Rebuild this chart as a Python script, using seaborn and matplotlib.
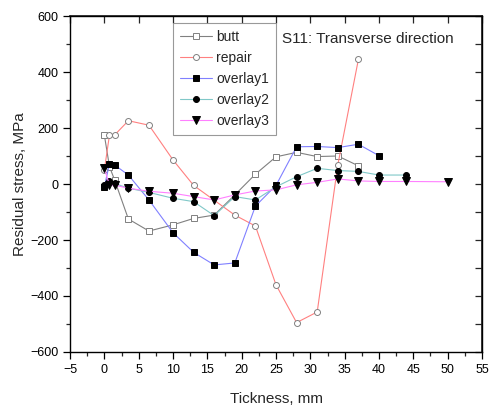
import matplotlib
matplotlib.use("Agg")
import matplotlib.pyplot as plt
import seaborn as sns
import numpy as np
from matplotlib.ticker import MultipleLocator

sns.set_theme(style="white")
plt.rcParams['font.family'] = ['Liberation Sans', 'DejaVu Sans']

# Data
butt_x = [0, 0.75, 1.5, 3.5, 6.5, 10, 13, 16, 19, 22, 25, 28, 31, 34, 37]
butt_y = [175, 62, 14, -125, -168, -146, -123, -111, -39, 35, 97, 113, 98, 100, 65]

repair_x = [0, 0.75, 1.5, 3.5, 6.5, 10, 13, 19, 22, 25, 28, 31, 34, 37]
repair_y = [50, 175, 175, 226, 210, 86, -5, -111, -150, -360, -495, -457, 68, 445]

overlay1_x = [0, 0.75, 1.5, 3.5, 6.5, 10, 13, 16, 19, 22, 25, 28, 31, 34, 37, 40]
overlay1_y = [-10, 72, 68, 32, -57, -174, -244, -289, -282, -79, -5, 133, 134, 130, 142, 101]

overlay2_x = [0, 0.75, 1.5, 3.5, 6.5, 10, 13, 16, 19, 22, 25, 28, 31, 34, 37, 40, 44]
overlay2_y = [-5, 10, 2, -15, -30, -51, -63, -113, -45, -57, -10, 26, 56, 48, 45, 32, 32]

overlay3_x = [0, 0.75, 1.5, 3.5, 6.5, 10, 13, 16, 19, 22, 25, 28, 31, 34, 37, 40, 44, 50]
overlay3_y = [56, -4, -4, -15, -26, -33, -45, -57, -39, -25, -21, -3, 6, 18, 11, 9, 9, 8]

series = [
    ("butt", butt_x, butt_y, "s", "#808080", "white", "#808080"),
    ("repair", repair_x, repair_y, "o", "#FF8080", "white", "#808080"),
    ("overlay1", overlay1_x, overlay1_y, "s", "#8080FF", "black", "black"),
    ("overlay2", overlay2_x, overlay2_y, "o", "#80C8C8", "black", "black"),
    ("overlay3", overlay3_x, overlay3_y, "v", "#FF80FF", "black", "black"),
]

fig = plt.figure(figsize=(4.92, 4.07), dpi=100)
ax = fig.add_axes([70/492, 55/407, 412/492, 336/407])

for name, xs, ys, mk, lc, fc, ec in series:
    sns.lineplot(x=xs, y=ys, ax=ax, sort=False, color=lc, lw=0.8,
                 marker=mk, markersize=4.3 if mk != "v" else 5.2,
                 markerfacecolor=fc, markeredgecolor=ec, markeredgewidth=0.7,
                 label=name, estimator=None)

ax.set_xlim(-5, 55)
ax.set_ylim(-600, 600)
ax.xaxis.set_major_locator(MultipleLocator(5))
ax.xaxis.set_minor_locator(MultipleLocator(2.5))
ax.yaxis.set_major_locator(MultipleLocator(200))
ax.yaxis.set_minor_locator(MultipleLocator(100))

for s in ax.spines.values():
    s.set_color("black")
    s.set_linewidth(1.0)

ax.tick_params(axis='both', which='major', direction='out', length=5, width=0.9,
               labelsize=9, colors='black', bottom=True, left=True)
ax.tick_params(axis='both', which='minor', direction='out', length=3, width=0.9,
               bottom=True, left=True)

# mirrored inward ticks on top and right
secx = ax.secondary_xaxis('top')
secx.xaxis.set_major_locator(MultipleLocator(5))
secx.tick_params(direction='in', length=5, width=0.9, labeltop=False)
secy = ax.secondary_yaxis('right')
secy.yaxis.set_major_locator(MultipleLocator(100))
secy.tick_params(direction='in', length=5, width=0.9, labelright=False)

ax.set_xlabel("Tickness, mm", fontsize=11, labelpad=12)
ax.set_ylabel("Residual stress, MPa", fontsize=11, labelpad=2)

ax.text(0.515, 0.932, "S11: Transverse direction", transform=ax.transAxes,
        fontsize=11, ha='left', va='center')

leg = ax.legend(loc='upper left', bbox_to_anchor=(0.25, 0.979), fontsize=10,
                frameon=True, fancybox=False, edgecolor='#808080',
                handlelength=2.3, handletextpad=0.3, labelspacing=0.5,
                borderpad=0.5, borderaxespad=0)
leg.get_frame().set_linewidth(0.8)

fig.savefig("out.png", dpi=100)
